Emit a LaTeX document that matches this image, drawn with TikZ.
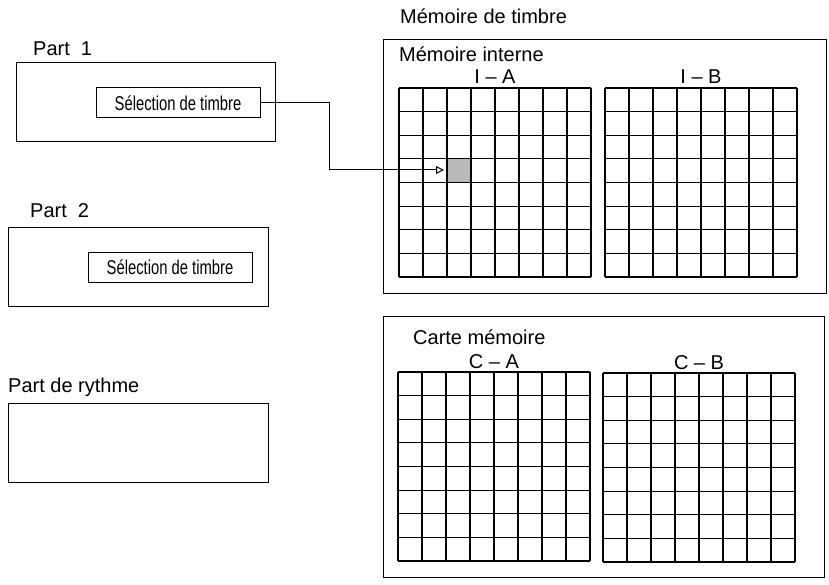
\documentclass[tikz,border=0pt]{standalone}
\usepackage{fontspec}
\setmainfont{Liberation Sans}
\usetikzlibrary{arrows.meta}
\begin{document}
\begin{tikzpicture}[x=1pt,y=-1pt,
  box/.style={draw,line width=1pt},
  lbl/.style={anchor=base west,inner sep=0pt,font=\fontsize{20}{24}\selectfont},
  sel/.style={draw,line width=1pt,minimum width=164pt,minimum height=30pt,inner sep=0pt,font=\fontsize{20}{24}\selectfont},
  gl/.style={line width=1.2pt}]
\useasboundingbox (0,0) rectangle (829,585);
\node[lbl] (l1) at (33,56) {Part\ \ 1};
\draw[box] (16,63) rectangle (275,142);
\node[sel] (s1) at (178,103) {\scalebox{0.74}[1]{Sélection de timbre}};
\node[lbl] (l2) at (30,218) {Part\ \ 2};
\draw[box] (8,228) rectangle (268,306);
\node[sel] (s2) at (170,267.5) {\scalebox{0.74}[1]{Sélection de timbre}};
\node[lbl] (l3) at (8,392) {Part de rythme};
\draw[box] (8,403) rectangle (268,482);
\node[lbl] (lm) at (400,24) {Mémoire de timbre};
\draw[box] (383,40) rectangle (826,293);
\node[lbl] (li) at (399,62) {Mémoire interne};
\draw[box] (383,316) rectangle (824,577);
\node[lbl] (lc) at (413,344) {Carte mémoire};
\fill[gray!55] (447,159) rectangle +(24,23.6);
\foreach \gx/\gy/\t in {399/88/I -- A,605/88/I -- B,398/372/C -- A,603/373/C -- B}{
  \foreach \i in {0,...,8}{
    \draw[gl] (\gx+\i*24,\gy) -- (\gx+\i*24,\gy+189);
    \draw[gl] (\gx,\gy+\i*23.625) -- (\gx+192,\gy+\i*23.625);}
  \node[font=\fontsize{20}{24}\selectfont,anchor=base,inner sep=0pt] at (\gx+96,\gy-4) {\t};
}
\coordinate (c1) at (329,103);
\coordinate (c2) at (329,170);
\coordinate (tip) at (444,170);
\draw[line width=1pt,-{Triangle[open,length=8pt,width=8pt]}] (s1.east) -- (c1) -- (c2) -- (tip);
\end{tikzpicture}
\end{document}
